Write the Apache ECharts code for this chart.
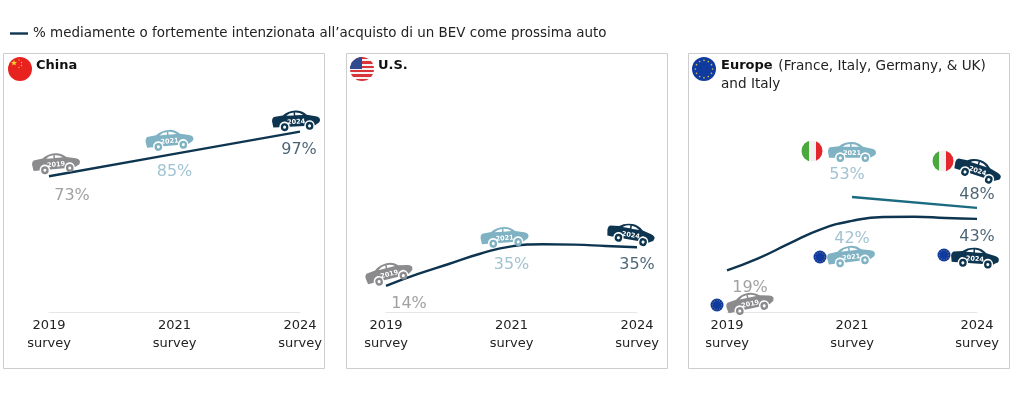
<!DOCTYPE html>
<html><head><meta charset="utf-8">
<style>html,body{margin:0;padding:0;background:#fff}#c{width:1024px;height:401px}</style>
<script src="https://cdn.jsdelivr.net/npm/echarts@6/dist/echarts.min.js"></script>
</head><body><div id="c"></div>
<script>
const legendText = "% mediamente o fortemente intenzionata all’acquisto di un BEV come prossima auto";
const years = ["2019","2021","2024"];
// the drawn curves pass through intermediate positions between surveys
const categories = ["2019\nsurvey","","","","2021\nsurvey","","","","2024\nsurvey"];
const china = [73,85,97];
const us = [14,35,35];
const europe = [19,42,43];
const italy = [null,53,48];
const chinaLine = [73,null,null,null,85,null,null,null,97];
const usLine = [14,20.3,25.8,31.3,35.3,36.4,36.2,35.5,34.8];
const europeLine = [19.2,24.7,31.6,38.1,42,43.8,43.9,43.3,42.9];
const italyLine = [null,null,null,null,53,null,null,null,48];

const GRAY="#8b8b8e", LIGHT="#7fb2c3", DARK="#0d3550", TEAL="#1a6a80";
const carColors=[GRAY,LIGHT,DARK];
const pctColors=["#8a8a8a","#89b4c5","#1c3c52"];
const FONT='"DejaVu Sans",Verdana,sans-serif';
const CAR='path://M2 16L1 10Q1 7 3 6L12 5Q17 1 25 1Q31 1 36 5.5L45 7.5Q49 8.5 49 11Q49 13.5 46 14.5L43.5 16A5 5 0 0 0 33 16L18.5 16A5 5 0 0 0 8 16Z'
 +'M15.5 5.5L23 5.5L23 2.8Q18.5 2.8 15.5 5.5Z M24.5 5.5L32.5 5.5Q29 2.8 24.5 2.8Z'
 +'M9.5 16.2A3.8 3.8 0 1 1 17.1 16.2A3.8 3.8 0 1 1 9.5 16.2Z M11.8 16.2A1.5 1.5 0 1 0 14.8 16.2A1.5 1.5 0 1 0 11.8 16.2Z'
 +'M34.5 16.2A3.8 3.8 0 1 1 42.1 16.2A3.8 3.8 0 1 1 34.5 16.2Z M36.8 16.2A1.5 1.5 0 1 0 39.8 16.2A1.5 1.5 0 1 0 36.8 16.2Z';

const panels=[
 {x:49,w:251,max:134.4},
 {x:386,w:251,max:134.4},
 {x:727,w:250,max:115.2}
];
const grid=panels.map(p=>({left:p.x,width:p.w,top:62,height:250}));
const xAxis=panels.map((p,i)=>({gridIndex:i,type:'category',boundaryGap:false,data:categories,
  axisLine:{lineStyle:{color:'#e6e6e6',width:1}},axisTick:{show:false},
  axisLabel:{color:'#222',fontFamily:FONT,fontSize:13,lineHeight:18,margin:5,interval:3,hideOverlap:false,showMinLabel:true,showMaxLabel:true}}));
const yAxis=panels.map((p,i)=>({gridIndex:i,type:'value',min:0,max:p.max,show:false,splitLine:{show:false}}));

function line(i,vals,color,name){
  return {type:'line',name,xAxisIndex:i,yAxisIndex:i,data:vals,smooth:0.5,connectNulls:true,showSymbol:false,symbol:'none',
    lineStyle:{color,width:2.4,cap:'butt'},itemStyle:{color},z:3,silent:true};
}
function marks(i,vals,carPos,pctPos){
  const cars=[],pcts=[];
  vals.forEach((v,k)=>{
    if(v==null) return;
    const c=carPos[k],q=pctPos[k];
    cars.push({value:[k*4,v],symbolOffset:[c[0],c[1]],symbolRotate:c[2],itemStyle:{color:carColors[k],opacity:1},
      label:{show:true,formatter:years[k],position:'inside',offset:[0,1.5],rotate:c[2],color:'#fff',fontFamily:FONT,fontSize:6.5,fontWeight:'bold'}});
    pcts.push({value:[k*4,v],label:{show:true,formatter:v+'%',position:'inside',offset:q,color:pctColors[k],fontFamily:FONT,fontSize:16}});
  });
  return [
   {type:'scatter',xAxisIndex:i,yAxisIndex:i,symbol:CAR,symbolSize:[48,20],data:cars,z:4,silent:true},
   {type:'scatter',xAxisIndex:i,yAxisIndex:i,symbolSize:1,itemStyle:{color:'transparent'},data:pcts,z:5,silent:true}
  ];
}
const series=[
 line(0,chinaLine,DARK,legendText),
 line(1,usLine,DARK,legendText),
 line(2,europeLine,DARK,legendText),
 line(2,italyLine,TEAL,'Italy'),
 ...marks(0,china,[[7,-13,5],[-5,-14,5],[-4,-11,3]],[[23,20],[0,18],[-1,18]]),
 ...marks(1,us,[[3,-13,14],[-7,-10,4],[-6,-13,-10]],[[23,18],[0,18],[0,18]]),
 ...marks(2,europe,[[23,32,12],[-1,35,7],[-2,39,-4]],[[23,17],[0,18],[0,18]]),
 ...marks(2,italy,[null,[0,-45,0],[1,-38,-18]],[null,[-5,-22],[0,-13]])
];

const LG=(stops)=>new echarts.graphic.LinearGradient(0,0,stops.h?0:1,stops.h?1:0,stops.s);
function hard(cols){const s=[];cols.forEach((c,i)=>{s.push({offset:i/cols.length,color:c},{offset:(i+1)/cols.length,color:c});});return s;}
function star(x,y,r,fill){return {type:'polygon',z:11,silent:true,shape:{points:[0,1,2,3,4,5,6,7,8,9].map(j=>{const a=-Math.PI/2+j*Math.PI/5,d=j%2?r*0.42:r;return [x+d*Math.cos(a),y+d*Math.sin(a)];})},style:{fill}};}
function eu(x,y,r){const a=[{type:'circle',z:10,silent:true,shape:{cx:x,cy:y,r},style:{fill:'#0f3aa0'}}];
  for(let j=0;j<12;j++){const t=j*Math.PI/6;a.push({type:'circle',z:11,silent:true,shape:{cx:x+r*0.72*Math.cos(t),cy:y+r*0.72*Math.sin(t),r:r*0.07},style:{fill:'#c9b84a'}});}
  return a;}
function itFlag(x,y,r){return [{type:'circle',z:10,silent:true,shape:{cx:x,cy:y,r},style:{fill:LG({s:hard(['#4aa83d','#f2f0ee','#e3262b'])})}}];}
function usFlag(x,y,r){const st=[];for(let j=0;j<11;j++)st.push(j%2?'#f5f3f3':'#d9343c');
  return [{type:'circle',z:10,silent:true,shape:{cx:x,cy:y,r},style:{fill:LG({h:1,s:hard(st)})}},
   {type:'sector',z:11,silent:true,shape:{cx:x,cy:y,r,r0:0,startAngle:Math.PI,endAngle:Math.PI*1.5},style:{fill:'#2f4a8f'}}];}
function cnFlag(x,y,r){return [{type:'circle',z:10,silent:true,shape:{cx:x,cy:y,r},style:{fill:'#e8231f'}},
  star(x-6,y-6,3.2,'#f6d32d'),star(x-1,y-9,1,'#f6d32d'),star(x+1.5,y-6.5,1,'#f6d32d'),star(x+1.5,y-3.5,1,'#f6d32d'),star(x-1,y-1.5,1,'#f6d32d')];}
function box(x,w){return {type:'rect',z:0,silent:true,shape:{x:x+.5,y:53.5,width:w,height:315},style:{fill:'#fff',stroke:'#cdcdcd',lineWidth:1}};}

const graphic=[box(3,321),box(346,321),box(688,321),
 ...cnFlag(20,69,12),...usFlag(362,69,12),...eu(704,69,12),
 ...itFlag(812,151,10.5),...itFlag(943,161,10.5),
 ...eu(717,305,6.5),...eu(820,257,6.5),...eu(944,255,6.5)];

const titleBase={top:52,textStyle:{fontFamily:FONT,fontSize:13,fontWeight:'bold',color:'#111',lineHeight:18}};
const title=[
 {...titleBase,left:31,text:'China'},
 {...titleBase,left:373,text:'U.S.'},
 {...titleBase,left:716,text:'{b|Europe} {n|(France, Italy, Germany, & UK)}\n{n|and Italy}',
  textStyle:{fontFamily:FONT,fontWeight:'normal',lineHeight:18,color:'#222',rich:{b:{fontFamily:FONT,fontSize:13,fontWeight:'bold',color:'#111',lineHeight:18},n:{fontFamily:FONT,fontSize:13.6,fontWeight:'normal',color:'#222',lineHeight:18}}}}
];

const chart=echarts.init(document.getElementById('c'),null,{renderer:'canvas'});
chart.setOption({animation:false,backgroundColor:'#fff',grid,xAxis,yAxis,series,title,graphic,
 legend:{show:true,data:[{name:legendText,icon:'rect'}],left:10,top:27,itemWidth:18,itemHeight:2.4,itemGap:5,
   textStyle:{fontFamily:FONT,fontSize:13.45,color:'#222'},selectedMode:false,padding:0,itemStyle:{color:DARK}}
});
</script></body></html>
